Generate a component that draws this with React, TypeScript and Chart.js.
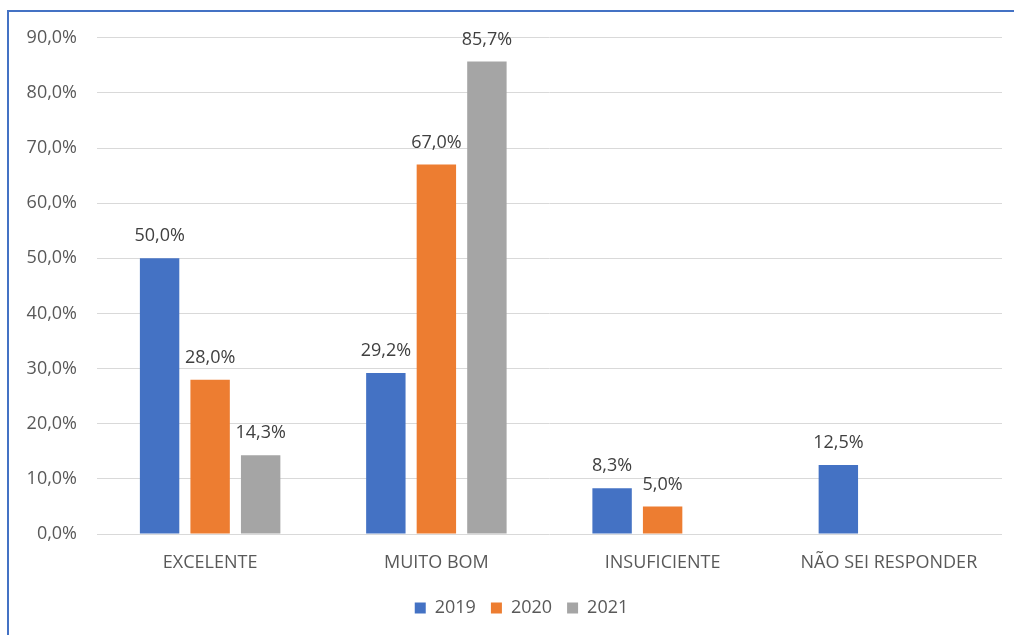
import React, { useEffect, useRef } from "react";
import { Chart, registerables } from "chart.js";

Chart.register(...registerables);

const categories = ["EXCELENTE", "MUITO BOM", "INSUFICIENTE", "NÃO SEI RESPONDER"];
const seriesNames = ["2019", "2020", "2021"];
const values2019 = [50.0, 29.2, 8.3, 12.5];
const values2020 = [28.0, 67.0, 5.0, null];
const values2021 = [14.3, 85.7, null, null];
const seriesColors = ["#4472C4", "#ED7D31", "#A5A5A5"];
const yTicks = [0, 10, 20, 30, 40, 50, 60, 70, 80, 90];

const FONT = "'Open Sans', 'Noto Sans', sans-serif";

const fmt = (v: number) => v.toFixed(1).replace(".", ",") + "%";

const labelPlugin = {
  id: "barLabels",
  afterLayout(chart: any) {
    if (chart.legend) {
      chart.legend.left += 16;
      chart.legend.right += 16;
    }
  },
  afterDatasetsDraw(chart: any) {
    const ctx = chart.ctx;
    ctx.save();
    ctx.font = `18px ${FONT}`;
    ctx.fillStyle = "#404040";
    ctx.textAlign = "center";
    ctx.textBaseline = "middle";
    chart.data.datasets.forEach((ds: any, i: number) => {
      const meta = chart.getDatasetMeta(i);
      meta.data.forEach((el: any, j: number) => {
        const v = ds.data[j];
        if (v === null || v === undefined) return;
        ctx.fillText(fmt(v), el.x, el.y - 22);
      });
    });
    ctx.restore();
  },
};

export default function App() {
  const ref = useRef<HTMLCanvasElement | null>(null);
  useEffect(() => {
    document.body.style.overflow = "hidden";
    const chart = new Chart(ref.current as HTMLCanvasElement, {
      type: "bar",
      data: {
        labels: categories,
        datasets: [values2019, values2020, values2021].map((d, i) => ({
          label: seriesNames[i],
          data: d,
          backgroundColor: seriesColors[i],
          categoryPercentage: 0.67,
          barPercentage: 0.78,
        })),
      },
      options: {
        animation: false,
        responsive: false,
        layout: { padding: { top: 16, right: 12, left: 0, bottom: 8 } },
        plugins: {
          tooltip: { enabled: false },
          legend: {
            position: "bottom",
            labels: {
              font: { family: FONT, size: 18 },
              color: "#595959",
              boxWidth: 11,
              boxHeight: 11,
              padding: 15,
            },
          },
        },
        scales: {
          x: {
            grid: { display: false },
            border: { display: false },
            ticks: {
              font: { family: FONT, size: 18 },
              color: "#595959",
              padding: 10,
              maxRotation: 0,
            },
            afterFit: (s: any) => {
              s.height = 50;
            },
          },
          y: {
            min: 0,
            max: 90,
            afterBuildTicks: (s: any) => {
              s.ticks = yTicks.map((v) => ({ value: v }));
            },
            grid: { color: "#D9D9D9", lineWidth: 1, drawTicks: false },
            border: { display: false },
            ticks: {
              font: { family: FONT, size: 18 },
              color: "#595959",
              padding: 20,
              callback: (v: any) => fmt(Number(v)),
            },
            afterFit: (s: any) => {
              s.width = 88;
            },
          },
        },
      },
      plugins: [labelPlugin],
    });
    return () => chart.destroy();
  }, []);
  return (
    <div
      style={{
        position: "absolute",
        left: 7,
        top: 10,
        width: 1007,
        height: 625,
        borderLeft: "2px solid #4472C4",
        borderTop: "2px solid #4472C4",
        boxSizing: "border-box",
        background: "#fff",
      }}
    >
      <canvas
        ref={ref}
        width={1005}
        height={628}
        style={{ display: "block", position: "absolute", left: 0, top: -5 }}
      />
    </div>
  );
}
